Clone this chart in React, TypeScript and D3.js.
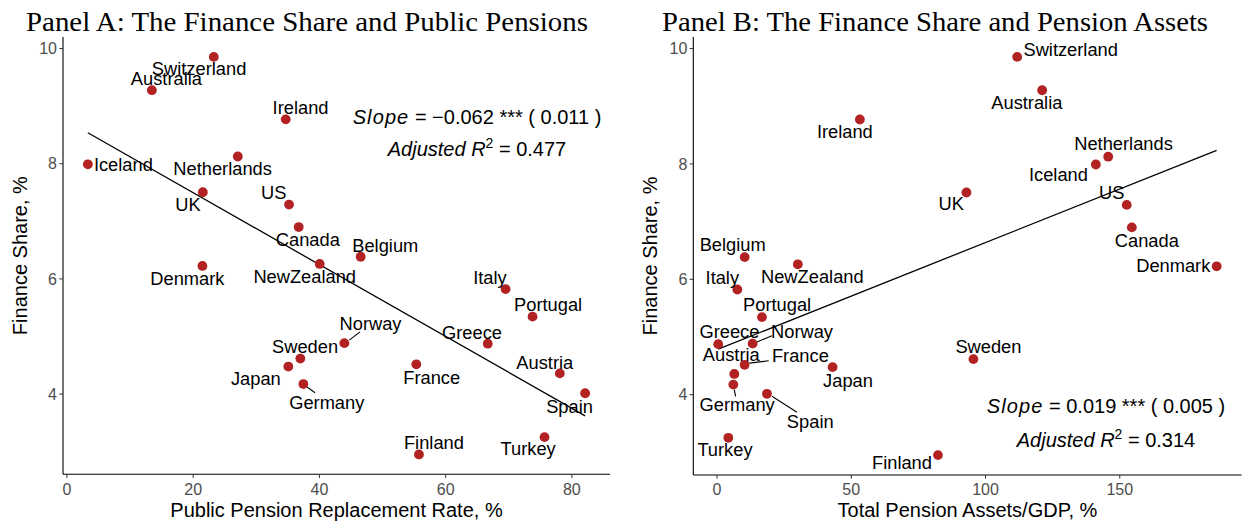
import React from 'react';
import * as d3 from 'd3';

// ---------------- DATA ----------------
const countries = [
  'Switzerland', 'Australia', 'Ireland', 'Netherlands', 'Iceland', 'UK', 'US', 'Canada',
  'Belgium', 'NewZealand', 'Denmark', 'Italy', 'Portugal', 'Greece', 'Norway', 'Sweden',
  'France', 'Japan', 'Austria', 'Germany', 'Spain', 'Turkey', 'Finland',
];
const financeShare = [
  9.855, 9.277, 8.77, 8.125, 7.99, 7.505, 7.29, 6.9,
  6.385, 6.26, 6.225, 5.823, 5.345, 4.876, 4.885, 4.617,
  4.518, 4.478, 4.36, 4.175, 4.015, 3.253, 2.953,
];
const replacementRate = [
  23.27, 13.46, 34.67, 27.07, 3.32, 21.53, 35.19, 36.72,
  46.54, 40.05, 21.47, 69.5, 73.77, 66.67, 43.95, 36.98,
  55.35, 35.08, 78.09, 37.46, 82.1, 75.67, 55.77,
];
const pensionAssets = [
  111.8, 121.1, 53.2, 145.7, 141.1, 92.9, 152.6, 154.5,
  10.3, 30.1, 186.1, 7.56, 16.75, 0.45, 13.26, 95.5,
  10.3, 43.05, 6.44, 6.07, 18.6, 4.2, 82.3,
];
const yTicks = [4, 6, 8, 10];
const xTicksA = [0, 20, 40, 60, 80];
const xTicksB = [0, 50, 100, 150];
const panelTitles = [
  'Panel A: The Finance Share and Public Pensions',
  'Panel B: The Finance Share and Pension Assets',
];
const xTitles = ['Public Pension Replacement Rate, %', 'Total Pension Assets/GDP, %'];
const yTitle = 'Finance Share, %';
const slopeTexts = ['= \u22120.062 *** ( 0.011 )', '= 0.019 *** ( 0.005 )'];
const r2Texts = ['= 0.477', '= 0.314'];

// ---------------- LAYOUT ----------------
const labelA: Record<string, [number, number]> = {
  Switzerland: [-14.7, 18.3], Australia: [14.5, -5], Ireland: [14.8, -5.3],
  Netherlands: [-15.2, 18.7], Iceland: [35.5, 7], UK: [-14.9, 18.4], US: [-15.3, -6],
  Canada: [9.1, 19.3], Belgium: [24.6, -5], NewZealand: [-15, 19.3], Denmark: [-15, 19.3],
  Italy: [-15.7, -5], Portugal: [15.6, -5.7], Greece: [-15.7, -4.7], Norway: [26.2, -13],
  Sweden: [4.7, -6], France: [15.4, 19.7], Japan: [-32.5, 18.3], Austria: [-15, -4.3],
  Germany: [23.4, 25], Spain: [-15.6, 19.3], Turkey: [-16.4, 17.7], Finland: [15, -5.3],
};
const labelB: Record<string, [number, number]> = {
  Switzerland: [53.5, -0.7], Australia: [-15.3, 18.7], Ireland: [-15, 18],
  Netherlands: [15.3, -6.7], Iceland: [-37.4, 16.4], UK: [-15.3, 17.7], US: [-15, -5.4],
  Canada: [15, 19.4], Belgium: [-12, -5.6], NewZealand: [14.5, 19], Denmark: [-43.4, 6],
  Italy: [-15, -5.7], Portugal: [15.1, -5.6], Greece: [11.2, -6], Norway: [49.4, -5.7],
  Sweden: [15, -6], France: [55.7, -3.3], Japan: [15.4, 19.4], Austria: [-3, -12.6],
  Germany: [3.8, 26.7], Spain: [43.3, 34], Turkey: [-3.3, 18], Finland: [-36, 14.3],
};
const leadersA: Record<string, [number, number, number, number]> = {
  Norway: [5, -3, 15.7, -11.3],
  Germany: [3.4, 2.7, 11.7, 8.7],
};
const leadersB: Record<string, [number, number, number, number]> = {
  Norway: [4.4, -1.7, 19.4, -8],
  France: [4.7, -1.7, 24, -4],
  Germany: [1, 5, 2.3, 11.7],
  Spain: [5, 2.4, 30, 18.4],
};

const SANS = '"Liberation Sans", Arial, Helvetica, sans-serif';
const SERIF = '"Liberation Serif", "Times New Roman", serif';
const POINT = '#B22222';

function expand(ext: [number, number]): [number, number] {
  const d = (ext[1] - ext[0]) * 0.05;
  return [ext[0] - d, ext[1] + d];
}

function ols(xs: number[], ys: number[]) {
  const mx = d3.mean(xs) as number;
  const my = d3.mean(ys) as number;
  let sxy = 0, sxx = 0;
  xs.forEach((x, i) => { sxy += (x - mx) * (ys[i] - my); sxx += (x - mx) * (x - mx); });
  const slope = sxy / sxx;
  return { slope, intercept: my - slope * mx };
}

type PanelProps = {
  xs: number[];
  left: number; right: number; top: number; bottom: number;
  xTicks: number[];
  title: string; titleX: number; titleLen: number;
  xTitle: string; yTitleX: number;
  labels: Record<string, [number, number]>;
  leaders: Record<string, [number, number, number, number]>;
  annX: number; annY1: number; annY2: number;
  slopeText: string; r2Text: string;
};

function Panel(p: PanelProps) {
  const x = d3.scaleLinear().domain(expand(d3.extent(p.xs) as [number, number])).range([p.left, p.right]);
  const y = d3.scaleLinear().domain(expand(d3.extent(financeShare) as [number, number])).range([p.bottom, p.top]);
  const fit = ols(p.xs, financeShare);
  const [x0, x1] = d3.extent(p.xs) as [number, number];
  const line = d3.line<number>().x((v) => x(v)).y((v) => y(fit.intercept + fit.slope * v));
  const cy = (p.top + p.bottom) / 2;
  const cx = (p.left + p.right) / 2;
  return (
    <g>
      <text x={p.titleX} y={31} fontFamily={SERIF} fontSize={27} textAnchor="middle"
        textLength={p.titleLen} lengthAdjust="spacingAndGlyphs" fill="#000">{p.title}</text>
      {/* axes */}
      <line x1={p.left} x2={p.left} y1={p.top} y2={p.bottom} stroke="#000" strokeWidth={1.1} />
      <line x1={p.left} x2={p.right} y1={p.bottom} y2={p.bottom} stroke="#000" strokeWidth={1.1} />
      {yTicks.map((t) => (
        <g key={'y' + t}>
          <line x1={p.left - 3.7} x2={p.left} y1={y(t)} y2={y(t)} stroke="#333" strokeWidth={1} />
          <text x={p.left - 6} y={y(t)} dy="0.36em" textAnchor="end" fontFamily={SANS}
            fontSize={16} fill="#4D4D4D">{t}</text>
        </g>
      ))}
      {p.xTicks.map((t) => (
        <g key={'x' + t}>
          <line x1={x(t)} x2={x(t)} y1={p.bottom} y2={p.bottom + 3.7} stroke="#333" strokeWidth={1} />
          <text x={x(t)} y={495} textAnchor="middle" fontFamily={SANS}
            fontSize={16} fill="#4D4D4D">{t}</text>
        </g>
      ))}
      <text x={cx} y={517} textAnchor="middle" fontFamily={SANS} fontSize={20} fill="#000">{p.xTitle}</text>
      <text transform={`translate(${p.yTitleX},${cy}) rotate(-90)`} textAnchor="middle"
        fontFamily={SANS} fontSize={20} fill="#000">{yTitle}</text>
      {/* regression line */}
      <path d={line([x0, x1]) || ''} fill="none" stroke="#000" strokeWidth={1.3} />
      {/* leaders */}
      {countries.map((c, i) => {
        const l = p.leaders[c];
        if (!l) return null;
        const px = x(p.xs[i]), py = y(financeShare[i]);
        return <line key={'ld' + c} x1={px + l[0]} y1={py + l[1]} x2={px + l[2]} y2={py + l[3]}
          stroke="#000" strokeWidth={1.1} />;
      })}
      {/* points */}
      {countries.map((c, i) => (
        <circle key={'pt' + c} cx={x(p.xs[i])} cy={y(financeShare[i])} r={4.9} fill={POINT} />
      ))}
      {/* labels */}
      {countries.map((c, i) => {
        const o = p.labels[c] || [0, -8];
        return (
          <text key={'lb' + c} x={x(p.xs[i]) + o[0]} y={y(financeShare[i]) + o[1]} textAnchor="middle"
            fontFamily={SANS} fontSize={18.3} fill="#000">{c}</text>
        );
      })}
      {/* annotation */}
      <text x={p.annX} y={p.annY1} textAnchor="middle" fontFamily={SANS} fontSize={20} fill="#000">
        <tspan fontStyle="italic" letterSpacing="1.1">Slope</tspan>
        <tspan>{' ' + p.slopeText}</tspan>
      </text>
      <text x={p.annX} y={p.annY2} textAnchor="middle" fontFamily={SANS} fontSize={20} fill="#000">
        <tspan fontStyle="italic">Adjusted R</tspan>
        <tspan fontSize={14} dy={-8}>2</tspan>
        <tspan dy={8}>{' ' + p.r2Text}</tspan>
      </text>
    </g>
  );
}

export default function App() {
  return (
    <svg width={1245} height={525} viewBox="0 0 1245 525"
      style={{ position: 'absolute', left: 0, top: 0, background: '#fff' }}>
      <rect width={1245} height={525} fill="#fff" />
      <Panel xs={replacementRate} left={63} right={610} top={37} bottom={474.3} xTicks={xTicksA}
        title={panelTitles[0]} titleX={307} titleLen={562} xTitle={xTitles[0]} yTitleX={26.7}
        labels={labelA} leaders={leadersA} annX={477} annY1={124} annY2={156}
        slopeText={slopeTexts[0]} r2Text={r2Texts[0]} />
      <Panel xs={pensionAssets} left={693.3} right={1241.6} top={37} bottom={475} xTicks={xTicksB}
        title={panelTitles[1]} titleX={935} titleLen={546} xTitle={xTitles[1]} yTitleX={657.3}
        labels={labelB} leaders={leadersB} annX={1106} annY1={412.7} annY2={446.7}
        slopeText={slopeTexts[1]} r2Text={r2Texts[1]} />
    </svg>
  );
}
